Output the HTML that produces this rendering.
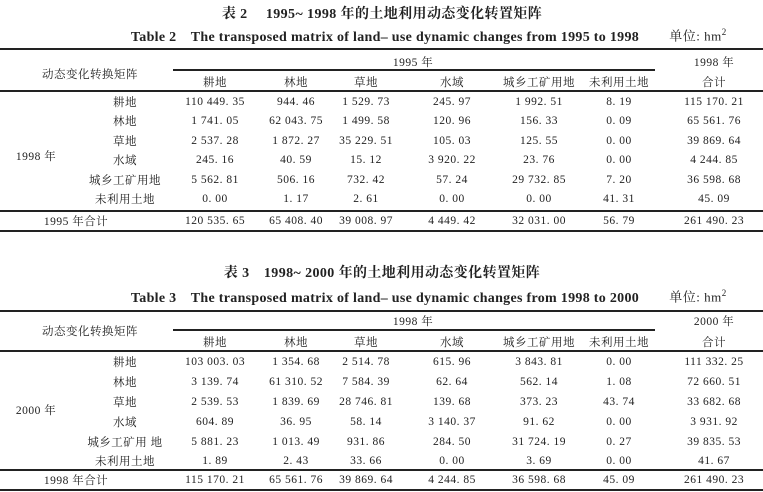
<!DOCTYPE html>
<html><head><meta charset="utf-8"><style>
body{margin:0;width:763px;height:492px;background:#fff;position:relative;overflow:hidden;font-family:"Liberation Serif","Noto Serif CJK SC","Noto Sans CJK SC",serif;color:#222}
.t{position:absolute;white-space:nowrap;transform:translate(-50%,-50%);font-size:11.5px;letter-spacing:0.5px}
.l{position:absolute;height:2px;background:#222}
.h{font-weight:bold;font-size:14px;letter-spacing:0.4px}
</style></head><body>
<div class="t h" style="left:382px;top:13px">表 2　 1995~ 1998 年的土地利用动态变化转置矩阵</div>
<div class="t h" style="left:385px;top:36px;letter-spacing:0.3px">Table 2　The transposed matrix of land– use dynamic changes from 1995 to 1998</div>
<div class="t" style="left:698px;top:35px;font-size:13px">单位: hm<sup style="font-size:9px">2</sup></div>
<div class="l" style="left:0;width:763px;top:48px"></div>
<div class="l" style="left:173px;width:482px;top:69px;height:1.5px"></div>
<div class="l" style="left:0;width:763px;top:90px"></div>
<div class="l" style="left:0;width:763px;top:210px"></div>
<div class="l" style="left:0;width:763px;top:230px"></div>
<div class="t" style="left:90px;top:74px">动态变化转换矩阵</div>
<div class="t" style="left:413px;top:62px">1995 年</div>
<div class="t" style="left:714px;top:62px">1998 年</div>
<div class="t" style="left:714px;top:82px">合计</div>
<div class="t" style="left:215px;top:82px">耕地</div><div class="t" style="left:296px;top:82px">林地</div><div class="t" style="left:366px;top:82px">草地</div><div class="t" style="left:452px;top:82px">水域</div><div class="t" style="left:539px;top:82px">城乡工矿用地</div><div class="t" style="left:619px;top:82px">未利用土地</div>
<div class="t" style="left:36px;top:156px">1998 年</div>
<div class="t" style="left:76px;top:221px">1995 年合计</div>

<div class="t h" style="left:382px;top:272px">表 3　1998~ 2000 年的土地利用动态变化转置矩阵</div>
<div class="t h" style="left:385px;top:297px;letter-spacing:0.3px">Table 3　The transposed matrix of land– use dynamic changes from 1998 to 2000</div>
<div class="t" style="left:698px;top:296px;font-size:13px">单位: hm<sup style="font-size:9px">2</sup></div>
<div class="l" style="left:0;width:763px;top:310px"></div>
<div class="l" style="left:173px;width:482px;top:329px;height:1.5px"></div>
<div class="l" style="left:0;width:763px;top:350px"></div>
<div class="l" style="left:0;width:763px;top:469px"></div>
<div class="l" style="left:0;width:763px;top:489px"></div>
<div class="t" style="left:90px;top:331px">动态变化转换矩阵</div>
<div class="t" style="left:413px;top:321px">1998 年</div>
<div class="t" style="left:714px;top:321px">2000 年</div>
<div class="t" style="left:714px;top:342px">合计</div>
<div class="t" style="left:215px;top:342px">耕地</div><div class="t" style="left:296px;top:342px">林地</div><div class="t" style="left:366px;top:342px">草地</div><div class="t" style="left:452px;top:342px">水域</div><div class="t" style="left:539px;top:342px">城乡工矿用地</div><div class="t" style="left:619px;top:342px">未利用土地</div>
<div class="t" style="left:36px;top:410px">2000 年</div>
<div class="t" style="left:76px;top:480px">1998 年合计</div>

<div class="t" style="left:125px;top:102px">耕地</div><div class="t" style="left:215px;top:102px">110 449. 35</div><div class="t" style="left:296px;top:102px">944. 46</div><div class="t" style="left:366px;top:102px">1 529. 73</div><div class="t" style="left:452px;top:102px">245. 97</div><div class="t" style="left:539px;top:102px">1 992. 51</div><div class="t" style="left:619px;top:102px">8. 19</div><div class="t" style="left:714px;top:102px">115 170. 21</div>
<div class="t" style="left:125px;top:121px">林地</div><div class="t" style="left:215px;top:121px">1 741. 05</div><div class="t" style="left:296px;top:121px">62 043. 75</div><div class="t" style="left:366px;top:121px">1 499. 58</div><div class="t" style="left:452px;top:121px">120. 96</div><div class="t" style="left:539px;top:121px">156. 33</div><div class="t" style="left:619px;top:121px">0. 09</div><div class="t" style="left:714px;top:121px">65 561. 76</div>
<div class="t" style="left:125px;top:141px">草地</div><div class="t" style="left:215px;top:141px">2 537. 28</div><div class="t" style="left:296px;top:141px">1 872. 27</div><div class="t" style="left:366px;top:141px">35 229. 51</div><div class="t" style="left:452px;top:141px">105. 03</div><div class="t" style="left:539px;top:141px">125. 55</div><div class="t" style="left:619px;top:141px">0. 00</div><div class="t" style="left:714px;top:141px">39 869. 64</div>
<div class="t" style="left:125px;top:160px">水域</div><div class="t" style="left:215px;top:160px">245. 16</div><div class="t" style="left:296px;top:160px">40. 59</div><div class="t" style="left:366px;top:160px">15. 12</div><div class="t" style="left:452px;top:160px">3 920. 22</div><div class="t" style="left:539px;top:160px">23. 76</div><div class="t" style="left:619px;top:160px">0. 00</div><div class="t" style="left:714px;top:160px">4 244. 85</div>
<div class="t" style="left:125px;top:180px">城乡工矿用地</div><div class="t" style="left:215px;top:180px">5 562. 81</div><div class="t" style="left:296px;top:180px">506. 16</div><div class="t" style="left:366px;top:180px">732. 42</div><div class="t" style="left:452px;top:180px">57. 24</div><div class="t" style="left:539px;top:180px">29 732. 85</div><div class="t" style="left:619px;top:180px">7. 20</div><div class="t" style="left:714px;top:180px">36 598. 68</div>
<div class="t" style="left:125px;top:199px">未利用土地</div><div class="t" style="left:215px;top:199px">0. 00</div><div class="t" style="left:296px;top:199px">1. 17</div><div class="t" style="left:366px;top:199px">2. 61</div><div class="t" style="left:452px;top:199px">0. 00</div><div class="t" style="left:539px;top:199px">0. 00</div><div class="t" style="left:619px;top:199px">41. 31</div><div class="t" style="left:714px;top:199px">45. 09</div>
<div class="t" style="left:215px;top:221px">120 535. 65</div><div class="t" style="left:296px;top:221px">65 408. 40</div><div class="t" style="left:366px;top:221px">39 008. 97</div><div class="t" style="left:452px;top:221px">4 449. 42</div><div class="t" style="left:539px;top:221px">32 031. 00</div><div class="t" style="left:619px;top:221px">56. 79</div><div class="t" style="left:714px;top:221px">261 490. 23</div>

<div class="t" style="left:125px;top:362px">耕地</div><div class="t" style="left:215px;top:362px">103 003. 03</div><div class="t" style="left:296px;top:362px">1 354. 68</div><div class="t" style="left:366px;top:362px">2 514. 78</div><div class="t" style="left:452px;top:362px">615. 96</div><div class="t" style="left:539px;top:362px">3 843. 81</div><div class="t" style="left:619px;top:362px">0. 00</div><div class="t" style="left:714px;top:362px">111 332. 25</div>
<div class="t" style="left:125px;top:382px">林地</div><div class="t" style="left:215px;top:382px">3 139. 74</div><div class="t" style="left:296px;top:382px">61 310. 52</div><div class="t" style="left:366px;top:382px">7 584. 39</div><div class="t" style="left:452px;top:382px">62. 64</div><div class="t" style="left:539px;top:382px">562. 14</div><div class="t" style="left:619px;top:382px">1. 08</div><div class="t" style="left:714px;top:382px">72 660. 51</div>
<div class="t" style="left:125px;top:402px">草地</div><div class="t" style="left:215px;top:402px">2 539. 53</div><div class="t" style="left:296px;top:402px">1 839. 69</div><div class="t" style="left:366px;top:402px">28 746. 81</div><div class="t" style="left:452px;top:402px">139. 68</div><div class="t" style="left:539px;top:402px">373. 23</div><div class="t" style="left:619px;top:402px">43. 74</div><div class="t" style="left:714px;top:402px">33 682. 68</div>
<div class="t" style="left:125px;top:422px">水域</div><div class="t" style="left:215px;top:422px">604. 89</div><div class="t" style="left:296px;top:422px">36. 95</div><div class="t" style="left:366px;top:422px">58. 14</div><div class="t" style="left:452px;top:422px">3 140. 37</div><div class="t" style="left:539px;top:422px">91. 62</div><div class="t" style="left:619px;top:422px">0. 00</div><div class="t" style="left:714px;top:422px">3 931. 92</div>
<div class="t" style="left:125px;top:442px">城乡工矿用 地</div><div class="t" style="left:215px;top:442px">5 881. 23</div><div class="t" style="left:296px;top:442px">1 013. 49</div><div class="t" style="left:366px;top:442px">931. 86</div><div class="t" style="left:452px;top:442px">284. 50</div><div class="t" style="left:539px;top:442px">31 724. 19</div><div class="t" style="left:619px;top:442px">0. 27</div><div class="t" style="left:714px;top:442px">39 835. 53</div>
<div class="t" style="left:125px;top:461px">未利用土地</div><div class="t" style="left:215px;top:461px">1. 89</div><div class="t" style="left:296px;top:461px">2. 43</div><div class="t" style="left:366px;top:461px">33. 66</div><div class="t" style="left:452px;top:461px">0. 00</div><div class="t" style="left:539px;top:461px">3. 69</div><div class="t" style="left:619px;top:461px">0. 00</div><div class="t" style="left:714px;top:461px">41. 67</div>
<div class="t" style="left:215px;top:480px">115 170. 21</div><div class="t" style="left:296px;top:480px">65 561. 76</div><div class="t" style="left:366px;top:480px">39 869. 64</div><div class="t" style="left:452px;top:480px">4 244. 85</div><div class="t" style="left:539px;top:480px">36 598. 68</div><div class="t" style="left:619px;top:480px">45. 09</div><div class="t" style="left:714px;top:480px">261 490. 23</div>
</body></html>
